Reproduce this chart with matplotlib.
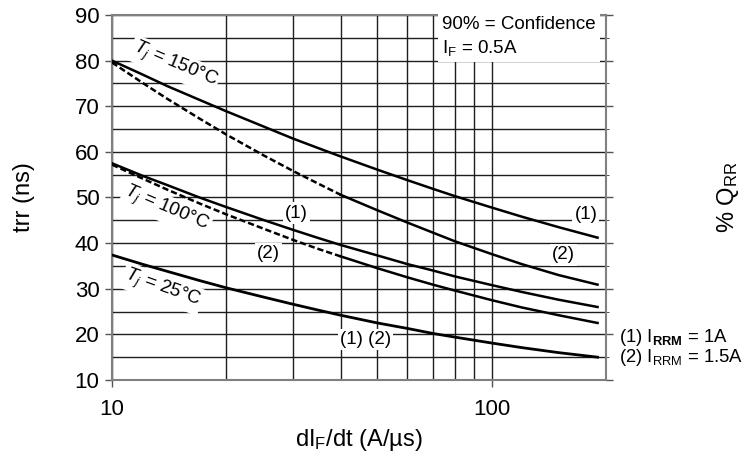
import numpy as np
import matplotlib
matplotlib.use("Agg")
import matplotlib.pyplot as plt
from matplotlib.ticker import FixedLocator, NullFormatter, FixedFormatter

plt.rcParams['font.family'] = ['Liberation Sans', 'DejaVu Sans']
plt.rcParams['mathtext.fontset'] = 'custom'
plt.rcParams['mathtext.rm'] = 'Liberation Sans'
plt.rcParams['mathtext.it'] = 'Liberation Sans:italic'
plt.rcParams['mathtext.bf'] = 'Liberation Sans:bold'

# data (trr in ns vs dIF/dt in A/us)
didt = [10, 12, 14, 17, 20, 25, 30, 35, 40, 50, 60, 70, 80, 100, 120, 150, 190]
trr_150_1 = [80.0, 77.0, 74.4, 71.4, 68.9, 65.6, 62.9, 60.8, 59.0, 56.1, 53.8, 51.9, 50.3,
             47.8, 45.8, 43.5, 41.2]
trr_150_2 = [79.6, 75.2, 71.6, 67.3, 63.8, 59.3, 55.8, 53.0, 50.6, 47.2, 44.5, 42.3, 40.4,
             37.6, 35.4, 33.0, 30.9]
trr_100_1 = [57.5, 54.8, 52.7, 50.0, 47.9, 45.1, 42.9, 41.1, 39.6, 37.3, 35.4, 34.0, 32.7,
             30.8, 29.3, 27.6, 26.0]
trr_100_2 = [57.2, 54.2, 51.7, 48.7, 46.3, 43.2, 40.7, 38.7, 37.1, 34.5, 32.5, 30.9, 29.6,
             27.5, 25.9, 24.2, 22.5]
trr_25 = [37.4, 35.4, 33.8, 31.8, 30.2, 28.2, 26.6, 25.3, 24.2, 22.5, 21.3, 20.2, 19.4,
          18.1, 17.1, 16.0, 15.0]

x_major = [10, 100]
x_minor = [20, 30, 40, 50, 60, 70, 80, 90, 200]
y_major = [10, 20, 30, 40, 50, 60, 70, 80, 90]
y_minor = [15, 25, 35, 45, 55, 65, 75, 85]

fig = plt.figure(figsize=(7.42, 4.54), dpi=100)
ax = fig.add_axes([112/742, 74/454, 494/742, 365/454])

ax.set_xscale('log')
ax.set_xlim(10, 200)
ax.set_ylim(10, 90)

ax.xaxis.set_major_locator(FixedLocator(x_major))
ax.xaxis.set_major_formatter(FixedFormatter([str(v) for v in x_major]))
ax.xaxis.set_minor_locator(FixedLocator(x_minor))
ax.xaxis.set_minor_formatter(NullFormatter())
ax.yaxis.set_major_locator(FixedLocator(y_major))
ax.yaxis.set_minor_locator(FixedLocator(y_minor))

ax.grid(which='both', color='#1e1e1e', lw=1.0, zorder=1)
ax.set_axisbelow(True)
for s in ax.spines.values():
    s.set_color('#808080')
    s.set_linewidth(1.5)

ax.tick_params(which='major', direction='out', length=5, width=1.0, color='#555555',
               labelsize=16)
ax.tick_params(axis='x', which='major', pad=9)
ax.tick_params(axis='x', which='minor', length=0)
ax.tick_params(axis='y', which='major', pad=4, left=True, right=True)
ax.tick_params(axis='y', which='minor', left=False, right=True, length=2, color='#333333')

x = np.array(didt)
lw = 1.8
ax.plot(x, trr_150_1, color='black', lw=lw, zorder=3)
ax.plot(x, trr_100_1, color='black', lw=lw, zorder=3)
ax.plot(x, trr_25, color='black', lw=2.0, zorder=3)

# curves (2) are dashed where they start close to curve (1)
for ys, xcut in [(trr_150_2, 40), (trr_100_2, 40)]:
    ys = np.array(ys)
    m1 = x <= xcut
    m2 = x >= xcut
    ax.plot(x[m1], ys[m1], color='black', lw=lw, ls=(0, (2.5, 1.2)), zorder=3)
    ax.plot(x[m2], ys[m2], color='black', lw=lw, zorder=3)

box = dict(facecolor='white', edgecolor='none', pad=1.5)
tsize = 13.5
ax.text(14.6, 79.0, r'$T_j$ = 150°C', rotation=-23, ha='center', va='center',
        fontsize=tsize, bbox=box, zorder=4)
ax.text(13.9, 47.4, r'$T_j$ = 100°C', rotation=-23, ha='center', va='center',
        fontsize=tsize, bbox=box, zorder=4)
ax.text(13.55, 30.0, r'$T_j$ = 25°C', rotation=-20, ha='center', va='center',
        fontsize=tsize, bbox=box, zorder=4)

ax.text(30.6, 46.6, '(1)', ha='center', va='center', fontsize=tsize, bbox=box, zorder=4)
ax.text(25.8, 37.8, '(2)', ha='center', va='center', fontsize=tsize, bbox=box, zorder=4)
ax.text(46.6, 18.8, '(1) (2)', ha='center', va='center', fontsize=tsize, bbox=box, zorder=4)
ax.text(177, 46.2, '(1)', ha='center', va='center', fontsize=tsize, bbox=box, zorder=4)
ax.text(154.6, 37.4, '(2)', ha='center', va='center', fontsize=tsize, bbox=box, zorder=4)

ax.text(0.668, 0.94, '90% = Confidence\nI$_\\mathrm{F}$ = 0.5A', transform=ax.transAxes,
        ha='left', va='center', fontsize=tsize, linespacing=1.3,
        bbox=dict(facecolor='white', edgecolor='none', pad=3), zorder=4)

ax.set_xlabel(r'dI$_\mathrm{F}$/dt (A/µs)', fontsize=17, labelpad=5)
ax.set_ylabel('trr (ns)', fontsize=17, va='center')
ax.yaxis.set_label_coords(-88/494, 0.5)

fig.text(728/742, (454-197)/454, r'% Q$_\mathrm{RR}$', rotation=90, ha='center',
         va='center', fontsize=17)
fig.text(619/742, (454-338)/454, r'(1) I$_\mathbf{RRM}$ = 1A', ha='left', va='center',
         fontsize=13.3)
fig.text(619/742, (454-357)/454, r'(2) I$_\mathrm{RRM}$ = 1.5A', ha='left', va='center',
         fontsize=13.3)

fig.savefig('out.png', dpi=100)
